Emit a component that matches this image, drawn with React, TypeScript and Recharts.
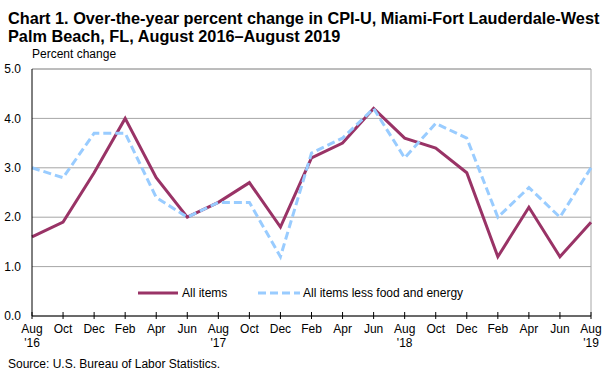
import React from "react";
import {
  LineChart,
  Line,
  XAxis,
  YAxis,
  CartesianGrid,
  ReferenceLine,
} from "recharts";

const months = [
  "Aug", "Oct", "Dec", "Feb", "Apr", "Jun", "Aug", "Oct", "Dec", "Feb",
  "Apr", "Jun", "Aug", "Oct", "Dec", "Feb", "Apr", "Jun", "Aug",
];
const years = [
  "'16", "", "", "", "", "", "'17", "", "", "", "", "", "'18", "", "", "", "", "", "'19",
];
const allItems = [
  1.6, 1.9, 2.9, 4.0, 2.8, 2.0, 2.3, 2.7, 1.8, 3.2, 3.5, 4.2, 3.6, 3.4, 2.9, 1.2, 2.2, 1.2, 1.9,
];
const lessFoodEnergy = [
  3.0, 2.8, 3.7, 3.7, 2.4, 2.0, 2.3, 2.3, 1.2, 3.3, 3.6, 4.2, 3.2, 3.9, 3.6, 2.0, 2.6, 2.0, 3.0,
];
const yTicks = [0, 1, 2, 3, 4, 5];

const data = months.map((m, i) => ({
  key: i,
  month: m,
  year: years[i],
  all: allItems[i],
  core: lessFoodEnergy[i],
}));

const FONT = "'Liberation Sans', Arial, sans-serif";

function MonthTick(props: any) {
  const { x, y, payload } = props;
  const d = data[payload.value];
  return (
    <g>
      <line x1={x} x2={x} y1={y - 4} y2={y + 3} stroke="#000" strokeWidth={1} />
      <text x={x} y={y + 17} textAnchor="middle" fontSize={12} fontFamily={FONT} fill="#000">
        {d.month}
      </text>
      {d.year && (
        <text x={x} y={y + 31} textAnchor="middle" fontSize={12} fontFamily={FONT} fill="#000">
          {d.year}
        </text>
      )}
    </g>
  );
}

function LegendBox() {
  return (
    <svg width={360} height={16} style={{ display: "block" }}>
      <line x1={0} x2={40} y1={8} y2={8} stroke="#993366" strokeWidth={3} />
      <text x={44} y={12} fontSize={12} fontFamily={FONT} fill="#000">All items</text>
      <line x1={120} x2={162} y1={8} y2={8} stroke="#99CCFF" strokeWidth={3} strokeDasharray="8 4" />
      <text x={165} y={12} fontSize={12} fontFamily={FONT} fill="#000">All items less food and energy</text>
    </svg>
  );
}

export default function App() {
  return (
    <div
      style={{
        position: "absolute",
        left: 0,
        top: 0,
        width: 608,
        height: 374,
        background: "#fff",
        fontFamily: FONT,
      }}
    >
      <LineChart
        width={608}
        height={374}
        data={data}
        margin={{ top: 69, right: 17, bottom: 0, left: 0 }}
      >
        <CartesianGrid vertical={false} stroke="#a6a6a6" />
        <ReferenceLine y={5} stroke="#a6a6a6" />
        <ReferenceLine x={18} stroke="#a6a6a6" />
        <XAxis
          dataKey="key"
          type="category"
          height={58}
          axisLine={{ stroke: "#000" }}
          tickLine={false}
          tickSize={0}
          tickMargin={0}
          interval={0}
          tick={<MonthTick />}
        />
        <YAxis
          width={32}
          domain={[0, 5]}
          ticks={yTicks}
          axisLine={{ stroke: "#000" }}
          tickLine={false}
          tickSize={0}
          tickMargin={11}
          tickFormatter={(v: number) => v.toFixed(1)}
          tick={{ fontSize: 12, fill: "#000", fontFamily: FONT }}
        />
        <Line
          dataKey="all"
          stroke="#993366"
          strokeWidth={3}
          dot={false}
          activeDot={false}
          isAnimationActive={false}
        />
        <Line
          dataKey="core"
          stroke="#99CCFF"
          strokeWidth={3}
          strokeDasharray="8 4"
          dot={false}
          activeDot={false}
          isAnimationActive={false}
        />
      </LineChart>
      <div
        style={{
          position: "absolute",
          left: 8,
          top: 9,
          fontSize: 16.3,
          fontWeight: "bold",
          lineHeight: "18px",
          width: 600,
        }}
      >
        Chart 1. Over-the-year percent change in CPI-U, Miami-Fort Lauderdale-West
        <br />
        Palm Beach, FL, August 2016–August 2019
      </div>
      <div style={{ position: "absolute", left: 32, top: 47, fontSize: 12 }}>
        Percent change
      </div>
      <div style={{ position: "absolute", left: 138, top: 285 }}>
        <LegendBox />
      </div>
      <div style={{ position: "absolute", left: 8, top: 357, fontSize: 12 }}>
        Source: U.S. Bureau of Labor Statistics.
      </div>
    </div>
  );
}
